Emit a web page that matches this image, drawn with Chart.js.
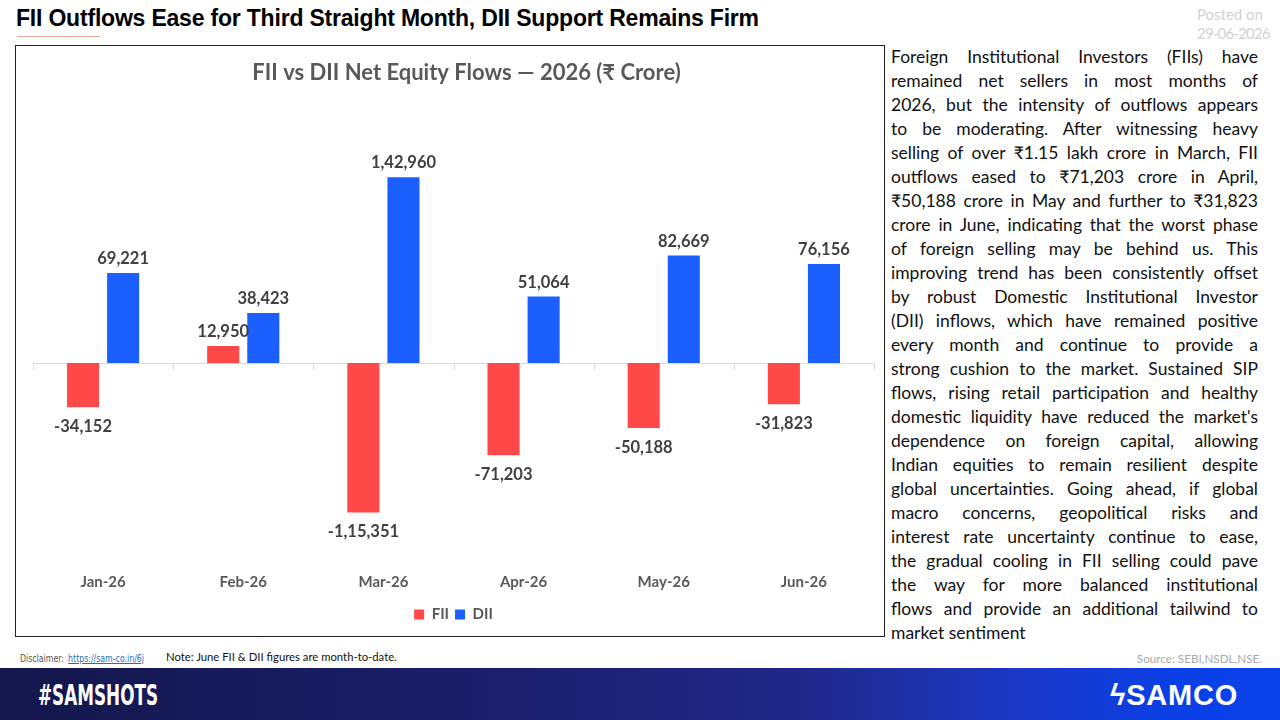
<!DOCTYPE html>
<html>
<head>
<meta charset="utf-8">
<script src="https://cdn.jsdelivr.net/npm/chart.js@4.4.1/dist/chart.umd.min.js"></script>
<style>
  html, body { margin: 0; padding: 0; }
  body { width: 1280px; height: 720px; position: relative; overflow: hidden; background: #fff; font-family: Lato, "Open Sans", sans-serif; }
  #title { position: absolute; left: 16px; top: 5px; font-family: "Liberation Sans", Arial, sans-serif; font-weight: bold; font-size: 23px; color: #000; letter-spacing: -0.2px; white-space: nowrap; }
  #uline { position: absolute; left: 17px; top: 36px; width: 83px; height: 1px; background: #e3a590; }
  #posted { position: absolute; left: 1197px; top: 5px; font-family: Lato, sans-serif; font-size: 15px; line-height: 19px; color: #d2d2d2; white-space: nowrap; }
  #posted span { letter-spacing: -0.8px; }
  #box { position: absolute; left: 15px; top: 45px; width: 868px; height: 590px; border: 1px solid #222; }
  #chartwrap { position: absolute; left: 0; top: 0; width: 868px; height: 590px; }
  #text { position: absolute; left: 891px; top: 45px; width: 367px; font-family: Lato, sans-serif; font-size: 17.5px; line-height: 24px; color: #111; }
  #text div { text-align: justify; text-align-last: justify; white-space: nowrap; }
  #text div.last { text-align-last: left; }
  #disc { position: absolute; left: 20px; top: 652px; font-family: "Liberation Sans Narrow", "DejaVu Sans Condensed", sans-serif; font-size: 10.5px; color: #555; transform: scaleX(0.83); transform-origin: left; white-space: nowrap; }
  #disc a { color: #2a6ebb; text-decoration: underline; margin-left: 5px; }
  #note { position: absolute; left: 166px; top: 650px; font-family: Lato, sans-serif; font-size: 11.3px; color: #111; }
  #source { position: absolute; right: 18px; top: 651px; font-family: Lato, sans-serif; font-size: 11.7px; color: #a9a9a9; }
  #footer { position: absolute; left: 0; top: 668px; width: 1280px; height: 52px; background: linear-gradient(90deg, #13174b 0%, #1b1f6d 40%, #202787 62%, #1b39c8 80%, #0a40e6 92%, #0a42ea 100%); }
  #sam { position: absolute; left: 38px; top: 10px; font-family: "Liberation Sans Narrow", "DejaVu Sans Condensed", sans-serif; font-weight: bold; font-size: 29px; color: #fff; transform: scaleX(0.645); transform-origin: left; white-space: nowrap; }
  #logo { position: absolute; left: 1110px; top: 11px; font-family: "Liberation Sans", Arial, sans-serif; font-weight: 900; font-size: 29px; color: #fff; letter-spacing: 0.8px; }
</style>
</head>
<body>
<div id="title">FII Outflows Ease for Third Straight Month, DII Support Remains Firm</div>
<div id="uline"></div>
<div id="posted">Posted on<br><span>29-06-2026</span></div>
<div id="box"><div id="chartwrap"><canvas id="c" width="868" height="590"></canvas></div></div>
<div id="text">
<div>Foreign Institutional Investors (FIIs) have</div>
<div>remained net sellers in most months of</div>
<div>2026, but the intensity of outflows appears</div>
<div>to be moderating. After witnessing heavy</div>
<div>selling of over ₹1.15 lakh crore in March, FII</div>
<div>outflows eased to ₹71,203 crore in April,</div>
<div>₹50,188 crore in May and further to ₹31,823</div>
<div>crore in June, indicating that the worst phase</div>
<div>of foreign selling may be behind us. This</div>
<div>improving trend has been consistently offset</div>
<div>by robust Domestic Institutional Investor</div>
<div>(DII) inflows, which have remained positive</div>
<div>every month and continue to provide a</div>
<div>strong cushion to the market. Sustained SIP</div>
<div>flows, rising retail participation and healthy</div>
<div>domestic liquidity have reduced the market's</div>
<div>dependence on foreign capital, allowing</div>
<div>Indian equities to remain resilient despite</div>
<div>global uncertainties. Going ahead, if global</div>
<div>macro concerns, geopolitical risks and</div>
<div>interest rate uncertainty continue to ease,</div>
<div>the gradual cooling in FII selling could pave</div>
<div>the way for more balanced institutional</div>
<div>flows and provide an additional tailwind to</div>
<div class="last">market sentiment</div>
</div>
<div id="disc">Disclaimer:<a>https://sam-co.in/6j</a></div>
<div id="note">Note: June FII &amp; DII figures are month-to-date.</div>
<div id="source">Source: SEBI,NSDL,NSE.</div>
<div id="footer">
  <div id="sam">#SAMSHOTS</div>
  <div id="logo">ϟSAMCO</div>
</div>
<script>
const categories = ['Jan-26', 'Feb-26', 'Mar-26', 'Apr-26', 'May-26', 'Jun-26'];
const fiiValues = [-34152, 12950, -115351, -71203, -50188, -31823];
const diiValues = [69221, 38423, 142960, 51064, 82669, 76156];
const seriesNames = ['FII', 'DII'];
const chartTitle = 'FII vs DII Net Equity Flows — 2026 (₹ Crore)';
const yMin = -148000;
const yMax = 164000;

const fmt = v => v.toLocaleString('en-IN');
const FONT = 'Lato, "Open Sans", sans-serif';

const titlePlugin = {
  id: 'offsetTitle',
  afterDraw(chart) {
    const { ctx, chartArea } = chart;
    ctx.save();
    ctx.font = 'bold 22px ' + FONT;
    ctx.fillStyle = '#595959';
    ctx.textAlign = 'center';
    ctx.textBaseline = 'middle';
    ctx.fillText(chartTitle, (chartArea.left + chartArea.right) / 2 + 13, 27);
    ctx.restore();
  }
};

const zeroLinePlugin = {
  id: 'zeroLine',
  beforeDatasetsDraw(chart) {
    const { ctx, chartArea, scales } = chart;
    const y0 = Math.round(scales.y.getPixelForValue(0)) + 0.5;
    const n = categories.length;
    ctx.save();
    ctx.strokeStyle = '#d9d9d9';
    ctx.lineWidth = 1;
    ctx.beginPath();
    ctx.moveTo(chartArea.left, y0);
    ctx.lineTo(chartArea.right, y0);
    for (let i = 0; i <= n; i++) {
      const x = Math.round(scales.x.getPixelForValue(i - 0.5)) + 0.5;
      ctx.moveTo(x, y0);
      ctx.lineTo(x, y0 + 6);
    }
    ctx.stroke();
    ctx.restore();
  }
};

const labelPlugin = {
  id: 'valueLabels',
  afterDatasetsDraw(chart) {
    const { ctx } = chart;
    ctx.save();
    ctx.font = 'bold 16.5px ' + FONT;
    ctx.fillStyle = '#404040';
    ctx.textAlign = 'center';
    chart.data.datasets.forEach((ds, di) => {
      const meta = chart.getDatasetMeta(di);
      meta.data.forEach((el, i) => {
        const v = ds.data[i];
        if (v >= 0) {
          ctx.textBaseline = 'bottom';
          ctx.fillText(fmt(v), el.x, el.y - 6);
        } else {
          ctx.textBaseline = 'top';
          ctx.fillText(fmt(v), el.x, el.y + 11);
        }
      });
    });
    ctx.restore();
  }
};

new Chart(document.getElementById('c'), {
  type: 'bar',
  data: {
    labels: categories,
    datasets: [
      { label: seriesNames[0], data: fiiValues, backgroundColor: '#ff4848', categoryPercentage: 0.572, barPercentage: 0.8 },
      { label: seriesNames[1], data: diiValues, backgroundColor: '#1c5fff', categoryPercentage: 0.572, barPercentage: 0.8 }
    ]
  },
  options: {
    responsive: false,
    animation: false,
    devicePixelRatio: 1,
    layout: { padding: { left: 17, right: 10, top: 104, bottom: 4 } },
    plugins: {
      title: { display: false },
      legend: {
        position: 'bottom',
        labels: {
          color: '#595959',
          font: { family: FONT, size: 15, weight: 'bold' },
          boxWidth: 10, boxHeight: 10, padding: 6
        }
      },
      tooltip: { enabled: false }
    },
    scales: {
      x: {
        grid: { display: false },
        border: { display: false },
        ticks: { color: '#595959', padding: 10, font: { family: FONT, size: 15, weight: 'bold' } }
      },
      y: {
        display: false,
        min: yMin,
        max: yMax
      }
    }
  },
  plugins: [zeroLinePlugin, labelPlugin, titlePlugin]
});
</script>
</body>
</html>
